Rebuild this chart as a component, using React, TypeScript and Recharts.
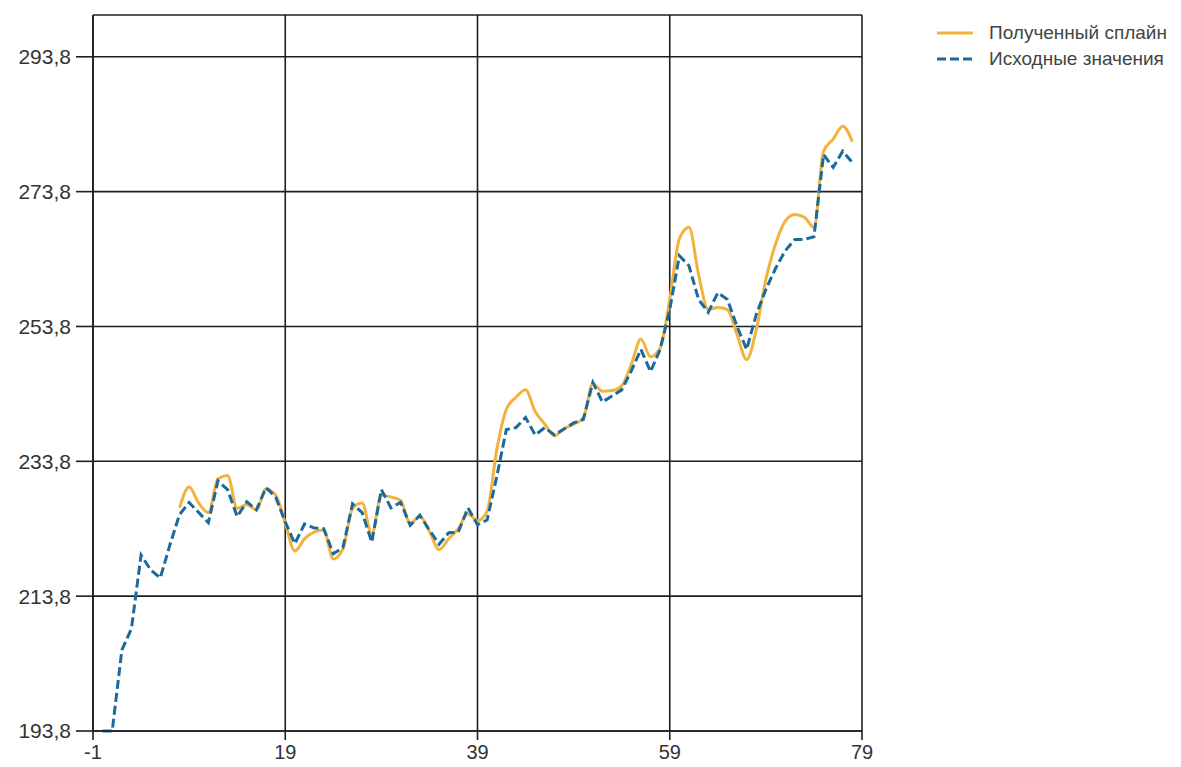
import { CartesianGrid, Line, LineChart, XAxis, YAxis } from "recharts";

// x runs 0..78, one value per step
const sourceValues = [
  193.8, 193.8, 205.8, 209.0, 219.9, 217.7, 216.5, 221.4, 225.9, 227.7,
  226.2, 224.7, 230.9, 229.6, 225.6, 227.8, 226.6, 229.9, 228.5, 224.8,
  221.6, 224.5, 223.9, 223.8, 220.1, 221.0, 227.5, 226.2, 221.8, 229.6,
  226.9, 227.7, 224.3, 225.8, 223.6, 221.5, 223.2, 223.3, 226.9, 224.4,
  225.1, 231.5, 238.5, 238.8, 240.3, 237.7, 238.8, 237.7, 238.6, 239.5,
  240.0, 245.5, 242.6, 243.5, 244.4, 247.2, 250.4, 247.1, 250.4, 256.3,
  264.3, 262.8, 257.8, 255.9, 258.8, 257.8, 253.8, 250.4, 255.6, 259.3,
  262.4, 265.0, 266.7, 266.7, 267.1, 279.3, 277.4, 279.8, 278.1,
];

// fitted spline, defined from x = 8 onward
const splineValues = [
  null, null, null, null, null, null, null, null, 226.9, 230.0,
  227.6, 226.2, 231.2, 231.7, 226.8, 227.4, 226.6, 229.7, 228.8, 224.6,
  220.5, 222.3, 223.3, 223.6, 219.3, 220.8, 226.8, 227.6, 223.0, 228.8,
  228.5, 228.0, 224.6, 225.6, 223.4, 220.7, 222.3, 223.8, 226.0, 225.0,
  226.4, 235.5, 241.5, 243.3, 244.4, 241.2, 239.3, 237.6, 238.6, 239.3,
  240.2, 245.3, 244.2, 244.3, 245.0, 248.2, 251.9, 249.3, 250.6, 257.8,
  266.8, 268.5, 261.5, 256.3, 256.6, 256.3, 252.6, 248.9, 253.3, 260.8,
  266.0, 269.4, 270.4, 270.0, 268.5, 279.8, 281.6, 283.5, 281.2,
];

const xTicks = [-1, 19, 39, 59, 79];
const yTicks = [193.8, 213.8, 233.8, 253.8, 273.8, 293.8];

const SPLINE_COLOR = "#f3b23c";
const SOURCE_COLOR = "#1b6a9c";
const FONT = "'Liberation Sans', Arial, sans-serif";

const data = sourceValues.map((v, i) => ({
  x: i,
  source: v,
  spline: splineValues[i],
}));

const legendItems = [
  { label: "Полученный сплайн", color: SPLINE_COLOR, dash: undefined },
  { label: "Исходные значения", color: SOURCE_COLOR, dash: "9 4" },
];

function ChartLegend() {
  return (
    <div
      style={{
        position: "absolute",
        left: 935,
        top: 20,
        fontFamily: FONT,
        fontSize: 19,
        color: "#444",
      }}
    >
      {legendItems.map((it) => (
        <div key={it.label} style={{ display: "flex", alignItems: "center", height: 26 }}>
          <svg width={44} height={10} style={{ marginRight: 10 }}>
            <line x1={2} y1={5} x2={38} y2={5} stroke={it.color} strokeWidth={3} strokeDasharray={it.dash} />
          </svg>
          <span>{it.label}</span>
        </div>
      ))}
    </div>
  );
}

const fmt = (v: number) => v.toFixed(1).replace(".", ",");

export default function App() {
  return (
    <div style={{ position: "relative", width: 1181, height: 767 }}>
      <style>{`body { margin: 0; }`}</style>
      <LineChart
        width={1181}
        height={767}
        data={data}
        margin={{ top: 15, right: 319, bottom: 6, left: 0 }}
      >
        <CartesianGrid stroke="#1e1e1e" strokeWidth={1.6} />
        <XAxis
          dataKey="x"
          type="number"
          domain={[-1, 79]}
          ticks={xTicks}
          interval={0}
          height={30}
          stroke="#1e1e1e"
          strokeWidth={1.6}
          tickSize={9}
          tickMargin={5}
          tick={{ fill: "#333", fontSize: 20, fontFamily: FONT }}
        />
        <YAxis
          type="number"
          domain={[193.8, 300]}
          ticks={yTicks}
          interval={0}
          width={93}
          stroke="#1e1e1e"
          strokeWidth={1.6}
          tickSize={17}
          tickMargin={5}
          tickFormatter={fmt}
          tick={{ fill: "#333", fontSize: 21, fontFamily: FONT }}
        />
        <Line
          type="monotone"
          dataKey="spline"
          stroke={SPLINE_COLOR}
          strokeWidth={3}
          dot={false}
          connectNulls={false}
          isAnimationActive={false}
        />
        <Line
          type="linear"
          dataKey="source"
          stroke={SOURCE_COLOR}
          strokeWidth={3}
          strokeDasharray="9 4"
          dot={false}
          isAnimationActive={false}
        />
      </LineChart>
      <ChartLegend />
    </div>
  );
}
